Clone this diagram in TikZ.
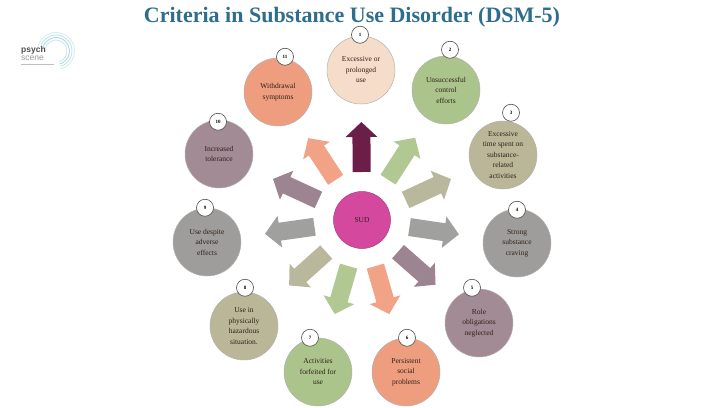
\documentclass[tikz,border=0pt]{standalone}
\usepackage{fontspec}
\setmainfont{Liberation Serif}
\setsansfont{Liberation Sans}
\usetikzlibrary{calc,arrows.meta}
\definecolor{titleblue}{HTML}{2E6D8E}
\definecolor{txtbrown}{HTML}{2E2119}
\definecolor{peach}{HTML}{F6DDC9}
\definecolor{sagegreen}{HTML}{ABC48C}
\definecolor{khaki}{HTML}{BAB698}
\definecolor{stonegray}{HTML}{9E9D9B}
\definecolor{mauve}{HTML}{A28B95}
\definecolor{salmon}{HTML}{EE9E7F}
\definecolor{sudpink}{HTML}{D4499D}
\definecolor{maroon}{HTML}{6B1E48}
\definecolor{argreen}{HTML}{B2C893}
\definecolor{arkhaki}{HTML}{BAB89C}
\definecolor{argray}{HTML}{A0A09E}
\definecolor{armauve}{HTML}{9C8490}
\definecolor{arsalmon}{HTML}{F2A385}
\definecolor{logoblue}{HTML}{9CCFE0}
\begin{document}
\begin{tikzpicture}[x=1pt,y=-1pt]
\tikzset{
  crit/.style={circle,minimum size=68pt,inner sep=0pt,draw=black!30,line width=0.5pt,
    font=\fontsize{7.5}{10.5}\selectfont,text=txtbrown,align=center},
  numbub/.style={circle,minimum size=17pt,inner sep=0pt,fill=white,draw=black!70,
    line width=0.6pt,font=\fontsize{5}{5}\selectfont\bfseries},
  blockarr/.style={line width=18pt,-{Triangle[width=31pt,length=15pt]}},
}
\def\critnode#1#2#3#4{\node[crit,fill=#3] (c#1) at (#2) {#4};}
\path[use as bounding box] (0,0) rectangle (720,407);
\node[font=\fontsize{22}{24}\selectfont\bfseries,text=titleblue] (title) at (352,17)
  {Criteria in Substance Use Disorder (DSM-5)};
% logo
\node[font=\sffamily\bfseries\fontsize{8.5}{8.5}\selectfont,text=black!70,anchor=west,inner sep=0pt]
  (psych) at (21,50) {psych};
\node[font=\sffamily\fontsize{8.5}{8.5}\selectfont,text=black!40,anchor=west,inner sep=0pt]
  (scene) at (21,58) {scene};
\draw[black!25,line width=0.8pt] (21,64) -- (54,64);
\begin{scope}[shift={(56,51)},y=1pt]
  \foreach \r/\o in {11/0.5,13.5/0.8,16/0.6,18.5/0.4}{
    \draw[logoblue,opacity=\o,line width=0.9pt] (165:\r) arc (165:-75:\r);
  }
\end{scope}
\node[circle,minimum size=57pt,inner sep=0pt,fill=sudpink,draw=sudpink!80!black,
  line width=0.5pt,font=\fontsize{7.5}{8}\selectfont,text=txtbrown] (sud) at (362,220) {SUD};
\critnode{1}{361,70}{peach}{Excessive or\\prolonged\\use}
\critnode{2}{446,90}{sagegreen}{Unsuccessful\\control\\efforts}
\critnode{3}{503,155}{khaki}{Excessive\\time spent on\\substance-\\related\\activities}
\critnode{4}{517,243}{stonegray}{Strong\\substance\\craving}
\critnode{5}{479,323}{mauve}{Role\\obligations\\neglected}
\critnode{6}{406,372}{salmon}{Persistent\\social\\problems}
\critnode{7}{318,372}{sagegreen}{Activities\\forfeited for\\use}
\critnode{8}{244,326}{khaki}{Use in\\physically\\hazardous\\situation.}
\critnode{9}{207,242}{stonegray}{Use despite\\adverse\\effects}
\critnode{10}{219,154}{mauve}{Increased\\tolerance}
\critnode{11}{278,92}{salmon}{Withdrawal\\symptoms}
\foreach \i/\dx/\dy in {1/-1/-1,2/4/-6,3/8/-8,4/0/1,5/-7/-1,6/1/0,7/-8/0,8/1/-4,9/-2/0,10/-1/2,11/7/-1}{
    \node[numbub] (n\i) at ($(c\i.north)+(\dx,\dy)$) {\i};
}
\foreach \i/\col in {1/maroon,2/argreen,3/arkhaki,4/argray,5/armauve,6/arsalmon,
    7/argreen,8/arkhaki,9/argray,10/armauve,11/arsalmon}{
    \draw[blockarr,draw=\col] ($(sud)!48pt!(c\i)$) -- ($(sud)!98pt!(c\i)$);
}
\end{tikzpicture}
\end{document}
